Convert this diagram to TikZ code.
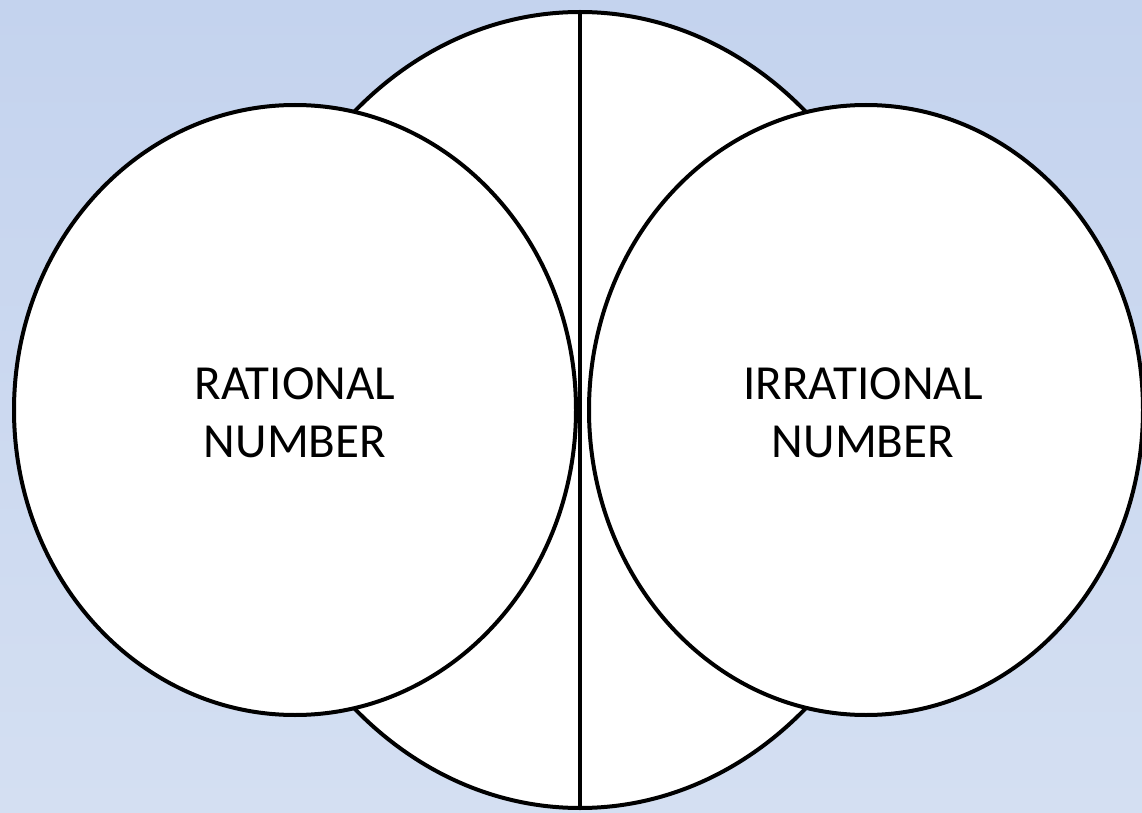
\documentclass[tikz,border=0pt]{standalone}
\usepackage{fontspec}
\setmainfont{Carlito}
\usetikzlibrary{shapes.geometric}
\definecolor{bgtop}{HTML}{C4D3EE}
\definecolor{bgbottom}{HTML}{D4DFF2}
\tikzset{
  setshape/.style={
    draw,
    ellipse,
    fill=white,
    line width=2pt,
    inner sep=0pt,
    outer sep=0pt
  },
  divider/.style={
    line width=2pt
  },
  label/.style={
    align=center,
    font=\fontsize{24.5}{29}\selectfont
  }
}

\begin{document}
\begin{tikzpicture}[x=0.5pt, y=-0.5pt]
  \useasboundingbox (0,0) rectangle (1142,813);
  \shade[top color=bgtop, bottom color=bgbottom] (0,0) rectangle (1142,813);

  % middle set, split in two halves
  \node[setshape, minimum width=341pt, minimum height=398pt] (whole) at (580,410) {};
  \draw[divider] (whole.north) -- (whole.south);

  % the two sets on each side
  \node[setshape, minimum width=281pt, minimum height=305pt] (rational) at (295,410) {};
  \node[setshape, minimum width=277pt, minimum height=305pt] (irrational) at (866,410) {};

  \node[label] (ratlabel) at (295,413) {RATIONAL\\NUMBER};
  \node[label] (irrlabel) at (863,413) {IRRATIONAL\\NUMBER};
\end{tikzpicture}
\end{document}
